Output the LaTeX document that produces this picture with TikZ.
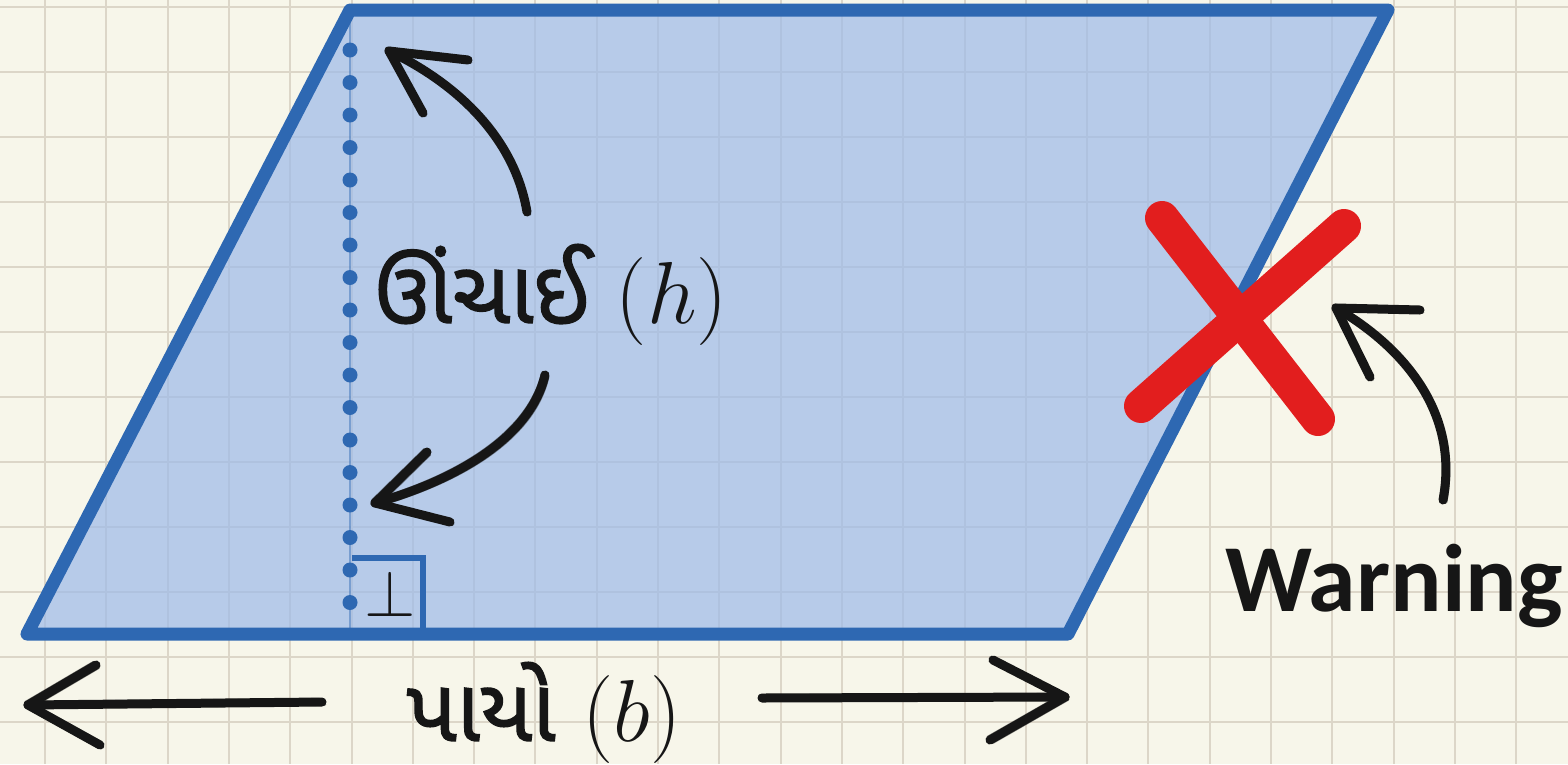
\RequirePackage{fix-cm}
\documentclass[tikz,border=0pt]{standalone}
\usepackage{fontspec}
\newfontfamily\gujfont[Script=Gujarati, AutoFakeBold=1.6]{Noto Sans Gujarati UI}
\newfontfamily\warnfont{Carlito}
\usetikzlibrary{calc}
\definecolor{paper}{RGB}{247,246,234}
\definecolor{gridc}{RGB}{220,214,200}
\definecolor{pblue}{RGB}{46,104,178}
\definecolor{pfill}{RGB}{157,186,233}
\definecolor{xred}{RGB}{226,30,30}
\definecolor{ink}{RGB}{22,22,22}
\tikzset{
  gridline/.style={draw=gridc, line width=2},
  edge/.style={draw=pblue, line width=13, line join=round},
  sketch/.style={draw=ink, line width=9, line cap=round, line join=round},
  sketchb/.style={draw=ink, line width=3, opacity=0.5, line cap=round, line join=round, transform canvas={shift={(2.8pt,-2.4pt)}}},
  sketchc/.style={draw=ink, line width=3, opacity=0.5, line cap=round, line join=round, transform canvas={shift={(-2.4pt,2.6pt)}}},
  redx/.style={draw=xred, line width=34, line cap=round},
  lbl/.style={anchor=base, inner sep=0pt, text=ink},
}
\begin{document}
\begin{tikzpicture}[x=1pt,y=-1pt]
\useasboundingbox (0,0) rectangle (1568,764);
\fill[paper] (0,0) rectangle (1568,764);
% grid
\foreach \k in {0,...,25} \draw[gridline] ({45+61.3*\k},0) -- ({45+61.3*\k},764);
\foreach \k in {0,...,11} \draw[gridline] (0,{7+65*\k}) -- (1568,{7+65*\k});
% parallelogram
\coordinate (A) at (27,634);
\coordinate (B) at (1068,634);
\coordinate (C) at (1388,10);
\coordinate (D) at (350,10);
\fill[pfill, opacity=0.7] (A) -- (B) -- (C) -- (D) -- cycle;
% height (dotted)
\coordinate (htop) at (350,14);
\coordinate (hbot) at (350,634);
\draw[pblue, line width=2, opacity=0.45] (htop) -- (hbot);
\foreach \k in {0,...,17} \fill[pblue] (350,{50+32.5*\k}) circle (7.5);
% right angle mark
\coordinate (ra1) at (352,558);
\coordinate (ra2) at (423,558);
\coordinate (ra3) at (423,634);
\draw[pblue, line width=6.5] (ra1) -- (ra2) -- (ra3);
\node[inner sep=0pt, text=ink, font=\fontsize{66}{66}\selectfont] (perp) at (390,594) {$\perp$};
\draw[edge] (A) -- (B) -- (C) -- (D) -- cycle;
% labels
\node[lbl] (hlab) at (551,323) {\fontsize{88}{96}\selectfont{\gujfont\bfseries ઊંચાઈ} $(h)$};
\node[lbl] (blab) at (544,741) {\fontsize{88}{96}\selectfont{\gujfont\bfseries પાયો} $(b)$};
\node[lbl] (warn) at (1394,611) {\warnfont\bfseries\fontsize{96}{100}\selectfont Warning};
% arrow 1 (up)
\coordinate (a1s) at (527,212);
\coordinate (a1t) at (389,51);
\foreach \st in {sketch,sketchb,sketchc}{
  \draw[\st] (a1s) .. controls (515,140) and (460,85) .. (a1t);
  \draw[\st] ($(a1t)+(79,9)$) -- (a1t) -- ($(a1t)+(34,62)$);
}
% arrow 2 (down)
\coordinate (a2s) at (545,375);
\coordinate (a2t) at (375,503);
\foreach \st in {sketch,sketchb,sketchc}{
  \draw[\st] (a2s) .. controls (530,440) and (450,482) .. (a2t);
  \draw[\st] ($(a2t)+(52,-51)$) -- (a2t) -- ($(a2t)+(75,19)$);
}
% warning arrow
\coordinate (a3s) at (1443,500);
\coordinate (a3t) at (1336,308);
\foreach \st in {sketch,sketchb,sketchc}{
  \draw[\st] (a3s) .. controls (1460,410) and (1400,345) .. (a3t);
  \draw[\st] ($(a3t)+(84,2)$) -- (a3t) -- ($(a3t)+(34,69)$);
}
% base arrows
\coordinate (bl1) at (322,702);
\coordinate (bl2) at (28,705);
\coordinate (br1) at (762,698);
\coordinate (br2) at (1065,697);
\foreach \st in {sketch,sketchb,sketchc}{
  \draw[\st] (bl1) -- (bl2);
  \draw[\st] ($(bl2)+(68,-40)$) -- (bl2) -- ($(bl2)+(72,40)$);
  \draw[\st] (br1) -- (br2);
  \draw[\st] ($(br2)+(-72,-37)$) -- (br2) -- ($(br2)+(-75,43)$);
}
% red cross
\coordinate (x1) at (1162,218);
\coordinate (x2) at (1318,419);
\coordinate (x3) at (1344,226);
\coordinate (x4) at (1141,406);
\draw[redx] (x1) -- (x2);
\draw[redx] (x3) -- (x4);
\end{tikzpicture}
\end{document}
